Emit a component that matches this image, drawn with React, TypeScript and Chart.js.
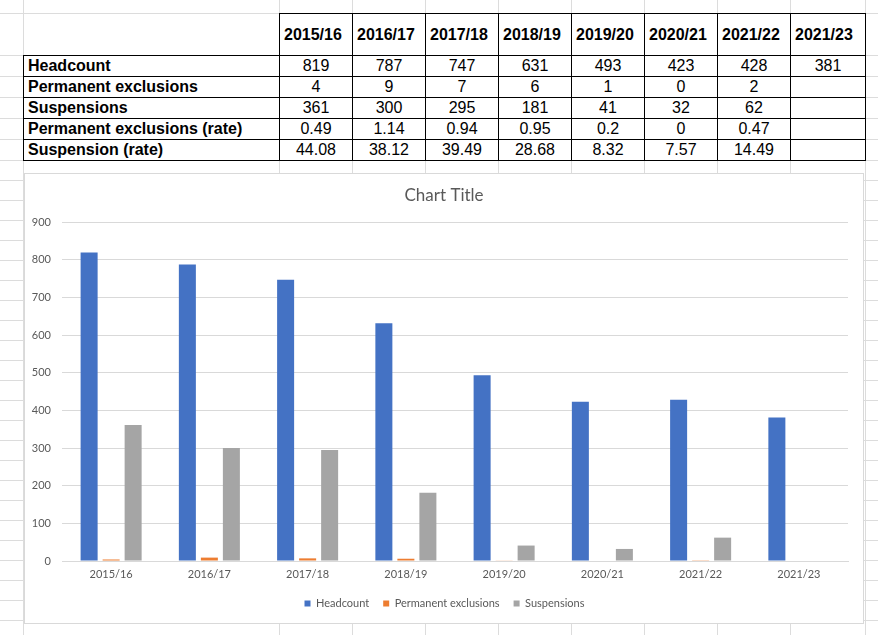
import React, { useEffect, useRef } from "react";
import { Chart, registerables } from "chart.js";
Chart.register(...registerables);

// ---- data ----
const years = ["2015/16", "2016/17", "2017/18", "2018/19", "2019/20", "2020/21", "2021/22", "2021/23"];
const headcount = [819, 787, 747, 631, 493, 423, 428, 381];
const permanentExclusions = [4, 9, 7, 6, 1, 0, 2, null];
const suspensions = [361, 300, 295, 181, 41, 32, 62, null];
const permanentExclusionRate = ["0.49", "1.14", "0.94", "0.95", "0.2", "0", "0.47", ""];
const suspensionRate = ["44.08", "38.12", "39.49", "28.68", "8.32", "7.57", "14.49", ""];
const rowLabels = ["Headcount", "Permanent exclusions", "Suspensions", "Permanent exclusions (rate)", "Suspension (rate)"];
const seriesNames = ["Headcount", "Permanent exclusions", "Suspensions"];
const chartTitle = "Chart Title";
const yMin = 0;
const yMax = 900;
const yStep = 100;

// ---- layout (not data) ----
const colX = [279, 352, 425, 498, 571, 644, 717, 790, 865];
const rowY = [13, 55, 76, 97, 118, 139, 160];
const GRID = "#dcdcdc";
const TXT = "#595959";
const FONT = "Lato";

function fmt(v: number | null) {
  return v === null || v === undefined ? "" : String(v);
}

const shiftBoxes = {
  id: "shiftBoxes",
  afterLayout(chart: any) {
    const t = chart.titleBlock;
    if (t) {
      t.left += 7.5;
      t.right += 7.5;
    }
    const l = chart.legend;
    if (l) {
      l.left += 8;
      l.right += 8;
    }
  },
};

export default function App() {
  const ref = useRef<HTMLCanvasElement>(null);
  useEffect(() => {
    const chart = new Chart(ref.current as HTMLCanvasElement, {
      type: "bar",
      data: {
        labels: years,
        datasets: [
          { label: seriesNames[0], data: headcount, backgroundColor: "#4472C4" },
          { label: seriesNames[1], data: permanentExclusions as any, backgroundColor: "#ED7D31" },
          { label: seriesNames[2], data: suspensions as any, backgroundColor: "#A5A5A5" },
        ],
      },
      options: {
        responsive: false,
        animation: false,
        devicePixelRatio: 1,
        layout: { padding: { left: 0, right: 15, top: 0, bottom: 4 } },
        datasets: { bar: { categoryPercentage: 0.672, barPercentage: 0.773 } },
        plugins: {
          title: {
            display: true,
            text: chartTitle,
            color: TXT,
            font: { family: FONT, size: 17, weight: "normal" },
            padding: { top: 11, bottom: 16.6 },
          },
          legend: {
            position: "bottom",
            labels: {
              boxWidth: 6,
              boxHeight: 6,
              padding: 14,
              color: TXT,
              font: { family: FONT, size: 11 },
            },
          },
          tooltip: { enabled: false },
        },
        scales: {
          x: {
            grid: { display: false, drawTicks: false },
            border: { display: true, color: "#d9d9d9" },
            ticks: { color: TXT, font: { family: FONT, size: 11 }, padding: 7, maxRotation: 0 },
            afterFit: (s: any) => {
              s.height = 23;
            },
          },
          y: {
            min: yMin,
            max: yMax,
            ticks: { stepSize: yStep, color: TXT, font: { family: FONT, size: 11 }, padding: 11 },
            grid: { color: "#d9d9d9", drawTicks: false },
            border: { display: false },
            afterFit: (s: any) => {
              s.width = 37;
            },
          },
        },
      } as any,
      plugins: [shiftBoxes],
    });
    return () => chart.destroy();
  }, []);

  const els: any[] = [];
  // spreadsheet gridlines
  [23, ...colX].forEach((x, i) =>
    els.push(<div key={"gv" + i} style={{ position: "absolute", left: x, top: 0, width: 1, height: 635, background: GRID }} />)
  );
  const hys = [...rowY];
  for (let y = 180; y <= 635; y += 20) hys.push(y);
  hys.forEach((y, i) =>
    els.push(<div key={"gh" + i} style={{ position: "absolute", left: 0, top: y, width: 878, height: 1, background: GRID }} />)
  );
  // black table borders
  els.push(<div key="bt" style={{ position: "absolute", left: colX[0], top: rowY[0], width: colX[8] - colX[0] + 1, height: 1, background: "#000" }} />);
  rowY.slice(1).forEach((y, i) =>
    els.push(<div key={"bh" + i} style={{ position: "absolute", left: 23, top: y, width: colX[8] - 23 + 1, height: 1, background: "#000" }} />)
  );
  els.push(<div key="bl" style={{ position: "absolute", left: 23, top: rowY[1], width: 1, height: rowY[6] - rowY[1] + 1, background: "#000" }} />);
  colX.forEach((x, i) =>
    els.push(<div key={"bv" + i} style={{ position: "absolute", left: x, top: rowY[0], width: 1, height: rowY[6] - rowY[0] + 1, background: "#000" }} />)
  );

  const cellBase: any = {
    position: "absolute",
    display: "flex",
    alignItems: "center",
    fontFamily: "'Liberation Sans', Arial, sans-serif",
    fontSize: 16,
    color: "#000",
    whiteSpace: "nowrap",
  };
  // headers
  years.forEach((yr, i) =>
    els.push(
      <div key={"hd" + i} style={{ ...cellBase, left: colX[i] + 1, top: rowY[0] + 1, width: colX[i + 1] - colX[i] - 1, height: rowY[1] - rowY[0] - 1, fontWeight: "bold", paddingLeft: 4, boxSizing: "border-box" }}>
        {yr}
      </div>
    )
  );
  const tableRows = [
    headcount.map(fmt),
    permanentExclusions.map(fmt),
    suspensions.map(fmt),
    permanentExclusionRate,
    suspensionRate,
  ];
  rowLabels.forEach((lab, r) => {
    const top = rowY[r + 1] + 1;
    const h = rowY[r + 2] - rowY[r + 1] - 1;
    els.push(
      <div key={"rl" + r} style={{ ...cellBase, left: 24, top, width: 255, height: h, fontWeight: "bold", paddingLeft: 4, boxSizing: "border-box" }}>
        {lab}
      </div>
    );
    tableRows[r].forEach((v, i) =>
      els.push(
        <div key={"c" + r + "_" + i} style={{ ...cellBase, left: colX[i] + 1, top, width: colX[i + 1] - colX[i] - 1, height: h, justifyContent: "center" }}>
          {v}
        </div>
      )
    );
  });

  return (
    <div style={{ position: "absolute", left: 0, top: 0, width: 878, height: 635, overflow: "hidden", background: "#fff" }}>
      {els}
      <div style={{ position: "absolute", left: 24, top: 173, width: 840, height: 451, boxSizing: "border-box", border: "1px solid #d9d9d9", background: "#fff" }}>
        <canvas ref={ref} width={838} height={449} style={{ display: "block", width: 838, height: 449 }} />
      </div>
    </div>
  );
}
